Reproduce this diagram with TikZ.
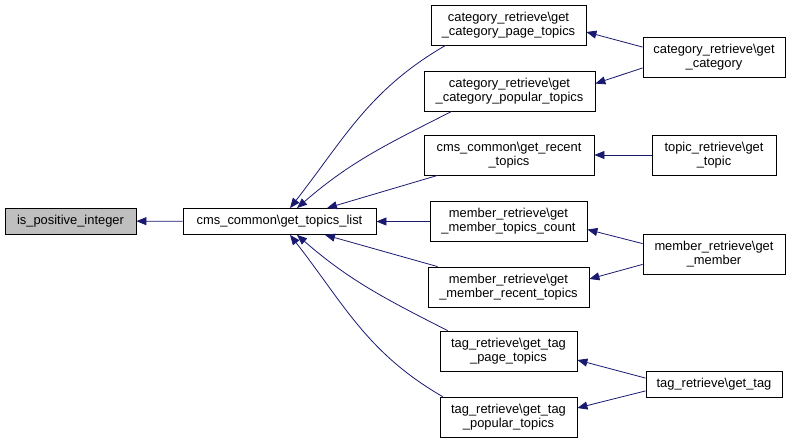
\documentclass[tikz,border=0pt]{standalone}
\usepackage{fontspec}
\setmainfont{Liberation Sans}
\usetikzlibrary{arrows.meta, positioning}

\definecolor{callblue}{HTML}{191970}
\definecolor{hereGray}{HTML}{BFBFBF}

\begin{document}
\begin{tikzpicture}[x=1pt, y=1pt,
    fn/.style={draw=black, fill=white, line width=0.8pt, align=center,
      font=\fontsize{12.9}{14.3}\selectfont, inner xsep=4pt, inner ysep=3pt, minimum height=26pt},
    fn2/.style={fn, minimum height=40pt},
    call/.style={draw=callblue, line width=0.8pt, -{Triangle[length=10pt, width=8pt]}}]
  \useasboundingbox (0,0) rectangle (792,-443);

  % function and its caller
  \node [fn, fill=hereGray, minimum width=131pt] (pos) at (70.5,-221) {is\_positive\_integer};
  \node [fn, minimum width=193pt] (list) at (279.5,-221.5) {cms\_common\textbackslash get\_topics\_list};

  % callers of get_topics_list
  \node [fn2, minimum width=155pt] (catpage) at (508.5,-25) {category\_retrieve\textbackslash get\\\_category\_page\_topics};
  \node [fn2, minimum width=171pt] (catpop) at (509.5,-91) {category\_retrieve\textbackslash get\\\_category\_popular\_topics};
  \node [fn2, minimum width=170pt] (recent) at (509,-155) {cms\_common\textbackslash get\_recent\\\_topics};
  \node [fn2, minimum width=157pt] (memcount) at (508.5,-221.5) {member\_retrieve\textbackslash get\\\_member\_topics\_count};
  \node [fn2, minimum width=161pt] (memrecent) at (508.5,-287) {member\_retrieve\textbackslash get\\\_member\_recent\_topics};
  \node [fn2, minimum width=137pt] (tagpage) at (508.5,-351) {tag\_retrieve\textbackslash get\_tag\\\_page\_topics};
  \node [fn2, minimum width=137pt] (tagpop) at (508.5,-417) {tag\_retrieve\textbackslash get\_tag\\\_popular\_topics};

  % outer callers
  \node [fn2, minimum width=142pt] (cat) at (714,-57.5) {category\_retrieve\textbackslash get\\\_category};
  \node [fn2, minimum width=124pt] (topic) at (714,-155) {topic\_retrieve\textbackslash get\\\_topic};
  \node [fn2, minimum width=142pt] (member) at (714,-254) {member\_retrieve\textbackslash get\\\_member};
  \node [fn, minimum width=136pt] (tag) at (714,-384.5) {tag\_retrieve\textbackslash get\_tag};

  \draw [call] (list) -- (pos);

  \draw [call] ([xshift=15pt]catpage.south west) to[out=210, in=52] ([xshift=10.5pt]list.north);
  \draw [call] ([xshift=28pt]catpop.south west) to[out=207, in=41] ([xshift=17.5pt]list.north);
  \draw [call] ([xshift=14pt]recent.south west) -- ([xshift=47.5pt]list.north);
  \draw [call] (memcount) -- (list);
  \draw [call] ([xshift=10pt]memrecent.north west) -- ([xshift=45.5pt]list.south);
  \draw [call] ([xshift=8pt]tagpage.north west) to[out=153, in=-41] ([xshift=17.5pt]list.south);
  \draw [call] ([xshift=3pt]tagpop.north west) to[out=150, in=-52] ([xshift=10.5pt]list.south);

  \draw [call] ([yshift=-10pt]cat.north west) -- ([yshift=-7pt]catpage.east);
  \draw [call] ([yshift=10pt]cat.south west) -- ([yshift=-13pt]catpop.north east);
  \draw [call] (topic) -- (recent);
  \draw [call] ([yshift=-10pt]member.north west) -- ([yshift=-8pt]memcount.east);
  \draw [call] ([yshift=10pt]member.south west) -- ([yshift=8pt]memrecent.east);
  \draw [call] ([yshift=-7pt]tag.north west) -- ([yshift=-9pt]tagpage.east);
  \draw [call] ([yshift=7pt]tag.south west) -- ([yshift=9pt]tagpop.east);
\end{tikzpicture}
\end{document}
